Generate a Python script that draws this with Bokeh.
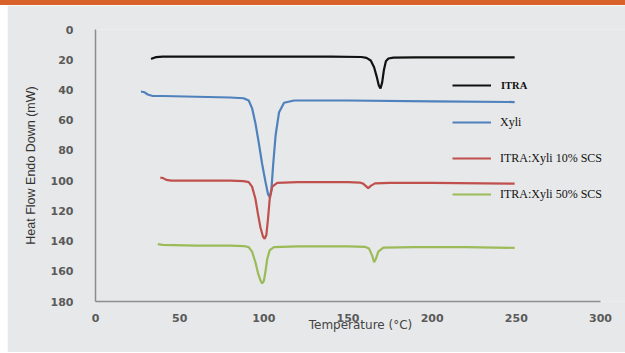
from bokeh.plotting import figure
from bokeh.models import Range1d, FixedTicker, Legend, LegendItem, Div, Spacer
from bokeh.layouts import column, row
from bokeh.embed import file_html
from bokeh.resources import INLINE

# ---- data ----
itra_t = [33, 34, 36, 40, 60, 100, 140, 158, 161, 163.5, 165.5, 167, 168.3, 169.3, 170.3, 171.3, 172.5, 174, 177, 190, 220, 249]
itra_v = [19.5, 19, 18.3, 18, 18, 18, 18, 18.2, 18.8, 20.5, 25, 31, 37, 39, 35, 27, 21, 19.2, 18.6, 18.5, 18.5, 18.5]

xyli_t = [27, 29, 31, 34, 40, 60, 80, 88, 91, 93, 95, 97, 99, 101, 102.5, 103.5, 104.5, 105.5, 107, 109, 112, 118, 150, 200, 249]
xyli_v = [41, 41.5, 43, 44, 44, 44.5, 45, 45.5, 47, 52, 62, 75, 89, 101, 109, 111, 106, 90, 70, 55, 48.5, 47, 47, 47.5, 48]

s10_t = [38.5, 40, 42, 45, 60, 80, 88, 91, 93, 95, 96.5, 98, 99.5, 100.5, 101.5, 102.5, 103.5, 105, 108, 120, 150, 157, 159, 161, 162, 163.5, 166, 175, 200, 249]
s10_v = [98, 98.3, 99.5, 100, 100, 100, 100.3, 101, 104, 112, 122, 131, 137, 138.5, 136, 125, 112, 104, 101.5, 101, 101, 101.3, 102, 104, 105, 103.5, 101.8, 101.5, 101.5, 102]

s50_t = [37, 40, 60, 80, 88, 91, 93, 95, 96.5, 98, 99, 100, 101, 102, 103.5, 106, 120, 150, 160, 162.5, 164.5, 165.5, 166.5, 168, 171, 190, 220, 249]
s50_v = [142, 142.5, 143, 143, 143.3, 144, 147, 154, 161, 166, 168, 166.5, 160, 152, 146, 144, 143.5, 143.5, 143.8, 145, 150, 154, 152, 147, 144.3, 144, 144, 144.5]

series_names = ["ITRA", "Xyli", "ITRA:Xyli 10% SCS", "ITRA:Xyli 50% SCS"]
series_colors = ["#111111", "#4f81bd", "#c0504d", "#9bbb59"]

x_ticks = [0, 50, 100, 150, 200, 250, 300]
y_ticks = [0, 20, 40, 60, 80, 100, 120, 140, 160, 180]

BG = "#e7e8e9"
W, H = 625, 353
TOP_BAR = 5
LEFT_STRIP = 7

p = figure(width=W - LEFT_STRIP, height=H - TOP_BAR - 1, output_backend="svg", toolbar_location=None,
           x_range=Range1d(0, 314.85), y_range=Range1d(180, 0),
           min_border_left=95 - LEFT_STRIP, min_border_right=0,
           min_border_top=29 - TOP_BAR, min_border_bottom=52 - 1)
p.background_fill_color = BG
p.border_fill_color = BG
p.outline_line_color = None
p.grid.visible = False

data = [(itra_t, itra_v), (xyli_t, xyli_v), (s10_t, s10_v), (s50_t, s50_v)]
renderers = []
for (t, v), c in zip(data, series_colors):
    r = p.line(t, v, line_color=c, line_width=2.2)
    renderers.append(r)

for ax in (p.xaxis[0], p.yaxis[0]):
    ax.axis_line_color = "#8c8c8c"
    ax.axis_line_width = 1.5
    ax.major_tick_line_color = None
    ax.minor_tick_line_color = None
    ax.major_tick_out = 0
    ax.major_tick_in = 0
    ax.major_label_text_font = "DejaVu Sans"
    ax.major_label_text_font_style = "bold"
    ax.major_label_text_font_size = "11px"
    ax.major_label_text_color = "#5a5a5a"

p.xaxis.bounds = (0, 300)
p.xaxis.ticker = FixedTicker(ticks=x_ticks)
p.yaxis.ticker = FixedTicker(ticks=y_ticks)
p.xaxis.major_label_standoff = 12
p.yaxis.major_label_standoff = 22

p.xaxis.axis_label = "Temperature (°C)"
p.xaxis.axis_label_text_font = "DejaVu Sans"
p.xaxis.axis_label_text_font_style = "normal"
p.xaxis.axis_label_text_font_size = "12px"
p.xaxis.axis_label_text_color = "#444444"
p.xaxis.axis_label_standoff = -7

p.yaxis.axis_label = "Heat Flow Endo Down (mW)"
p.yaxis.axis_label_text_font = "Liberation Sans"
p.yaxis.axis_label_text_font_style = "normal"
p.yaxis.axis_label_text_font_size = "12.5px"
p.yaxis.axis_label_text_color = "#333333"
p.yaxis.axis_label_standoff = 10

common = dict(orientation="vertical", border_line_color=None, background_fill_alpha=0,
              padding=0, margin=0, spacing=16, glyph_width=39, glyph_height=20,
              label_height=20, label_text_font="Liberation Serif", label_text_color="#111111")

legend1 = Legend(items=[LegendItem(label=series_names[0], renderers=[renderers[0]])],
                 location=(357, 206), label_standoff=10,
                 label_text_font_size="10.5px", label_text_font_style="bold", **common)
legend2 = Legend(items=[LegendItem(label=n, renderers=[r]) for n, r in zip(series_names[1:], renderers[1:])],
                 location=(357, 97), label_standoff=9,
                 label_text_font_size="12px", **common)
p.add_layout(legend1)
p.add_layout(legend2)

bar = Div(text="", width=W, height=TOP_BAR, margin=0,
          styles={"background-color": "#d9622b"})
strip = Spacer(width=LEFT_STRIP, height=H - TOP_BAR - 1, margin=0)
page = column(bar, row(strip, p, spacing=0, margin=0), spacing=0, margin=0)

open("out.html", "w").write(file_html(page, INLINE))
